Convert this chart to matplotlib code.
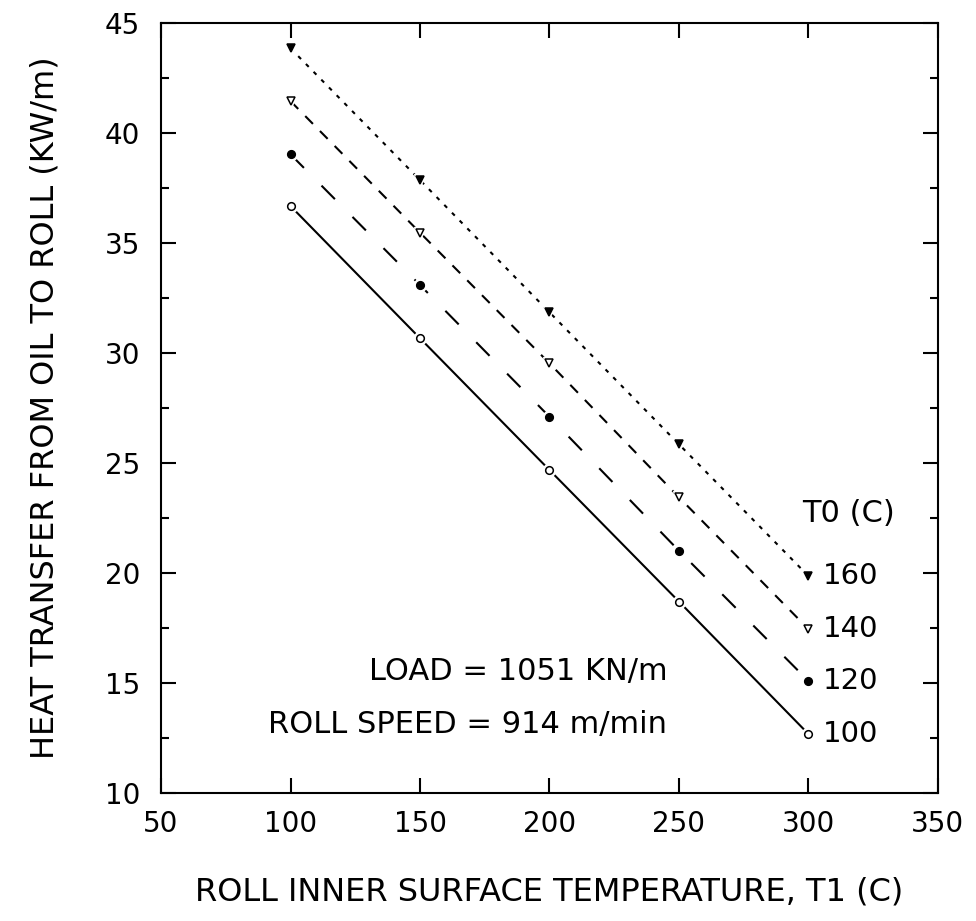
import matplotlib
matplotlib.use("Agg")
import matplotlib.pyplot as plt
from matplotlib.ticker import MultipleLocator

# Roll inner surface temperature T1 (C)
t1 = [100, 150, 200, 250, 300]

# Heat transfer from oil to roll (kW/m) for each oil temperature T0 (C)
t0_levels = [160, 140, 120, 100]
q_160 = [43.85, 37.86, 31.85, 25.85, 19.86]
q_140 = [41.45, 35.47, 29.53, 23.44, 17.45]
q_120 = [39.03, 33.09, 27.10, 21.01, 15.09]
q_100 = [36.68, 30.67, 24.68, 18.70, 12.68]

x_ticks = [50, 100, 150, 200, 250, 300, 350]
y_ticks = [10, 15, 20, 25, 30, 35, 40, 45]

plt.rcParams["font.family"] = ["DejaVu Sans"]
plt.rcParams["lines.scale_dashes"] = False

fig = plt.figure(figsize=(9.76, 9.21), dpi=100)
ax = fig.add_axes([0.165, 0.139, 0.796, 0.836])

series = [
    (q_160, "v", "black", (0, (2.9, 5.0))),
    (q_140, "v", "white", (0, (7.9, 7.2))),
    (q_120, "o", "black", (0, (13.7, 18.0))),
    (q_100, "o", "white", "-"),
]

for level, (vals, mk, face, ls) in zip(t0_levels, series):
    ax.plot(t1, vals, color="black", lw=1.5, linestyle=ls, zorder=2)
    # small white halo so each line stops just short of its markers
    ax.plot(t1, vals, linestyle="none", marker=mk, markersize=9,
            markerfacecolor="white", markeredgecolor="white", zorder=3)
    ax.plot(t1, vals, linestyle="none", marker=mk, markersize=5.5,
            markerfacecolor=face, markeredgecolor="black",
            markeredgewidth=1.1, zorder=4)
    ax.text(305.5, vals[-1], str(level), ha="left", va="center",
            fontsize=21)

ax.text(297.5, 22.7, "T0 (C)", ha="left", va="center", fontsize=22)
ax.text(245.5, 15.5, "LOAD = 1051 KN/m", ha="right", va="center",
        fontsize=22)
ax.text(245.5, 13.1, "ROLL SPEED = 914 m/min", ha="right", va="center",
        fontsize=22)

ax.set_xlim(50, 350)
ax.set_ylim(10, 45)
ax.set_xticks(x_ticks)
ax.set_yticks(y_ticks)
ax.yaxis.set_minor_locator(MultipleLocator(2.5))

ax.tick_params(axis="both", which="both", direction="in", width=1.5,
               top=True, right=True, labelsize=20)
ax.tick_params(axis="both", which="major", length=11)
ax.tick_params(axis="both", which="minor", length=5.5)
ax.tick_params(axis="y", which="major", pad=15)
ax.tick_params(axis="x", which="major", pad=12)

for sp in ax.spines.values():
    sp.set_linewidth(1.5)

ax.set_xlabel("ROLL INNER SURFACE TEMPERATURE, T1 (C)", fontsize=23,
              labelpad=28)
ax.set_ylabel("HEAT TRANSFER FROM OIL TO ROLL (KW/m)", fontsize=23,
              labelpad=32)

fig.savefig("out.png", dpi=100)
